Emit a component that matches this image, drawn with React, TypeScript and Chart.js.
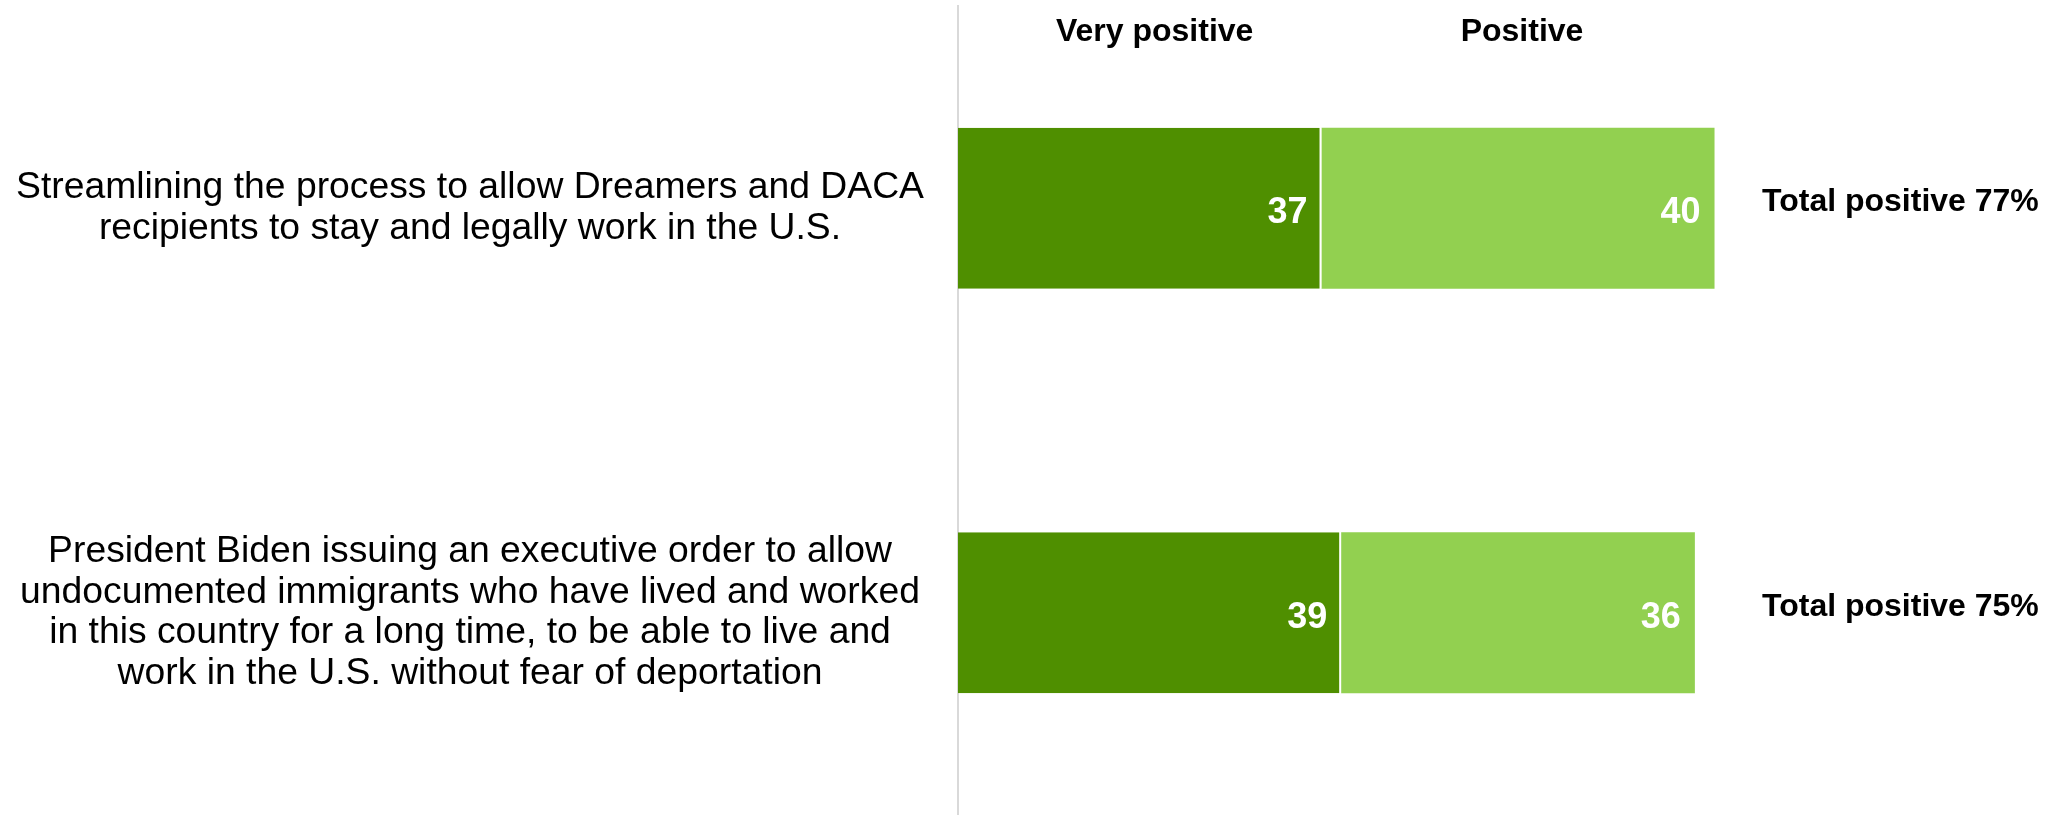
import React, { useEffect, useRef } from 'react';
import { Chart, registerables } from 'chart.js';

Chart.register(...registerables);

const categories: string[][] = [
  ['Streamlining the process to allow Dreamers and DACA', 'recipients to stay and legally work in the U.S.'],
  [
    'President Biden issuing an executive order to allow',
    'undocumented immigrants who have lived and worked',
    'in this country for a long time, to be able to live and',
    'work in the U.S. without fear of deportation',
  ],
];
const seriesNames = ['Very positive', 'Positive'];
const veryPositive = [37, 39];
const positive = [40, 36];
const totalPrefix = 'Total positive';

const FONT = '"Liberation Sans", Arial, sans-serif';
const LABEL_SIZE = 37.3;
const AXIS_X = 958;
const LABEL_CENTER = 470;

export default function App() {
  const ref = useRef<HTMLCanvasElement | null>(null);

  useEffect(() => {
    const canvas = ref.current;
    if (!canvas) return;

    const m = document.createElement('canvas').getContext('2d')!;
    m.font = `${LABEL_SIZE}px ${FONT}`;
    let widest = 0;
    categories.forEach((lines) => lines.forEach((l) => (widest = Math.max(widest, m.measureText(l).width))));
    const pad = AXIS_X - LABEL_CENTER - widest / 2;

    const overlay = {
      id: 'overlay',
      afterDatasetsDraw(chart: any) {
        const ctx = chart.ctx as CanvasRenderingContext2D;
        const xs = chart.scales.x;
        const area = chart.chartArea;
        ctx.save();
        ctx.textBaseline = 'middle';
        // value labels
        chart.data.datasets.forEach((ds: any, di: number) => {
          const meta = chart.getDatasetMeta(di);
          meta.data.forEach((el: any, i: number) => {
            ctx.font = `bold 36px ${FONT}`;
            ctx.fillStyle = '#ffffff';
            ctx.textAlign = 'right';
            ctx.fillText(String(ds.data[i]), el.x - 14, el.y + 5);
          });
        });
        // headers
        const mid1 = veryPositive.reduce((a, v) => a + v / 2, 0) / veryPositive.length;
        const mid2 = veryPositive.reduce((a, v, i) => a + v + positive[i] / 2, 0) / veryPositive.length;
        ctx.font = `bold 32px ${FONT}`;
        ctx.fillStyle = '#000000';
        ctx.textAlign = 'center';
        ctx.fillText(seriesNames[0], xs.getPixelForValue(mid1) + 10, area.top + 26);
        ctx.fillText(seriesNames[1], xs.getPixelForValue(mid2) + 4, area.top + 26);
        // totals
        const meta0 = chart.getDatasetMeta(0);
        ctx.textAlign = 'left';
        meta0.data.forEach((el: any, i: number) => {
          ctx.fillText(`${totalPrefix} ${veryPositive[i] + positive[i]}%`, area.right + 18, el.y - 6);
        });
        ctx.restore();
      },
    };

    const chart = new Chart(canvas, {
      type: 'bar',
      data: {
        labels: categories,
        datasets: [
          {
            label: seriesNames[0],
            data: veryPositive,
            backgroundColor: '#4f8f00',
            borderColor: '#ffffff',
            borderWidth: { left: 0, top: 0, bottom: 0, right: 2 },
            borderSkipped: 'start',
            barPercentage: 0.398,
            categoryPercentage: 1,
          },
          {
            label: seriesNames[1],
            data: positive,
            backgroundColor: '#92d050',
            borderWidth: 0,
            barPercentage: 0.398,
            categoryPercentage: 1,
          },
        ],
      },
      options: {
        indexAxis: 'y',
        responsive: false,
        animation: false,
        layout: { padding: { top: 6, right: 305, left: 0, bottom: 0 } },
        plugins: { legend: { display: false }, tooltip: { enabled: false } },
        scales: {
          x: { stacked: true, display: false, min: 0, max: 80 },
          y: {
            stacked: true,
            grid: { display: false, drawTicks: false },
            border: { display: true, color: '#d9d9d9', width: 2 },
            ticks: {
              autoSkip: false,
              crossAlign: 'center',
              padding: pad,
              color: '#000000',
              font: { family: FONT, size: LABEL_SIZE, lineHeight: 1.095 },
            },
            afterFit: (scale: any) => {
              scale.width = AXIS_X;
              scale.paddingTop = 0;
              scale.paddingBottom = 0;
            },
          },
        },
      },
      plugins: [overlay],
    } as any);

    return () => chart.destroy();
  }, []);

  return (
    <div style={{ position: 'fixed', left: 0, top: 0, width: 2049, height: 815, background: '#fff' }}>
      <canvas ref={ref} width={2049} height={815} style={{ display: 'block' }} />
    </div>
  );
}
